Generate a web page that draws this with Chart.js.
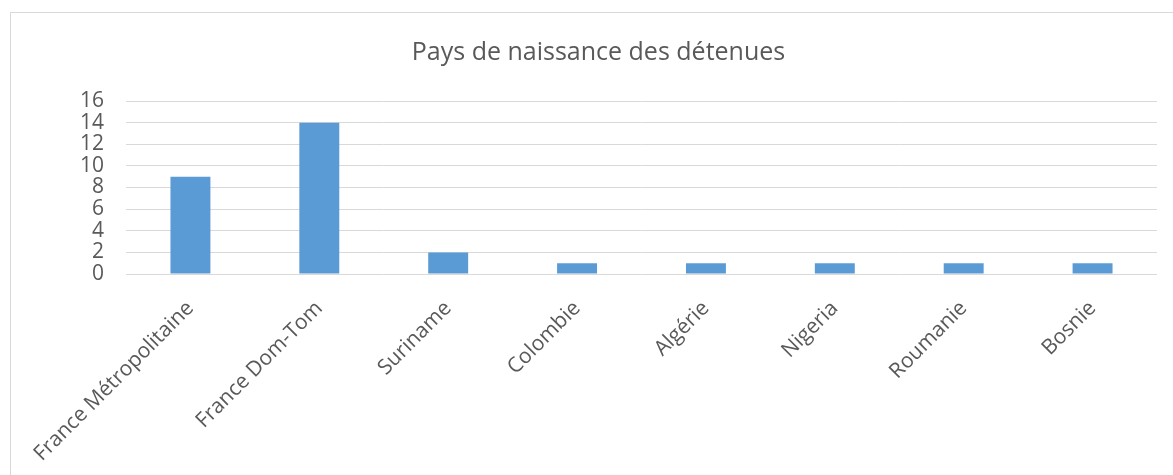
<!DOCTYPE html>
<html>
<head>
<meta charset="utf-8">
<script src="https://cdn.jsdelivr.net/npm/chart.js@4"></script>
<style>
  body { margin: 0; background: #fff; overflow: hidden; }
  #wrap { position: relative; width: 1173px; height: 475px; }
  #frame { position: absolute; left: 10px; top: 12px; width: 1200px; height: 500px; border: 1px solid #d9d9d9; }
  canvas { position: absolute; left: 0; top: 0; }
</style>
</head>
<body>
<div id="wrap">
  <div id="frame"></div>
  <canvas id="chart" width="1173" height="475"></canvas>
</div>
<script>
'use strict';

let countries = ['France Métropolitaine', 'France Dom-Tom', 'Suriname', 'Colombie', 'Algérie', 'Nigeria', 'Roumanie', 'Bosnie'];
let detainees = [9, 14, 2, 1, 1, 1, 1, 1];
let yTicks = [0, 2, 4, 6, 8, 10, 12, 14, 16];
let chartTitle = 'Pays de naissance des détenues';

let textColor = '#595959';
let ctx = document.getElementById('chart').getContext('2d');

new Chart(ctx, {
  type: 'bar',
  data: {
    labels: countries,
    datasets: [{
      data: detainees,
      backgroundColor: '#5b9bd5',
      barPercentage: 0.31,
      categoryPercentage: 1
    }]
  },
  options: {
    responsive: false,
    animation: false,
    // left padding + y axis width = 126, keeps the title centred like the original
    layout: { padding: { top: 0, right: 16, bottom: 0, left: 40 } },
    plugins: {
      legend: { display: false },
      tooltip: { enabled: false },
      title: {
        display: true,
        text: chartTitle,
        color: textColor,
        font: { family: 'Open Sans', size: 25, weight: 'normal' },
        padding: { top: 38, bottom: 33 }
      }
    },
    scales: {
      x: {
        grid: { display: false },
        border: { display: false },
        ticks: {
          color: textColor,
          font: { family: 'Open Sans', size: 21 },
          minRotation: 45,
          maxRotation: 45,
          autoSkip: false,
          padding: 14
        },
        afterFit: function (scale) { scale.height = 201; }
      },
      y: {
        min: 0,
        max: 16,
        afterBuildTicks: function (scale) {
          scale.ticks = yTicks.map(function (v) { return { value: v }; });
        },
        grid: { color: '#d9d9d9', lineWidth: 1, drawTicks: false },
        border: { display: false },
        ticks: {
          color: textColor,
          font: { family: 'Open Sans', size: 21 },
          autoSkip: false,
          padding: 22
        },
        afterFit: function (scale) { scale.width = 86; }
      }
    }
  }
});
</script>
</body>
</html>
